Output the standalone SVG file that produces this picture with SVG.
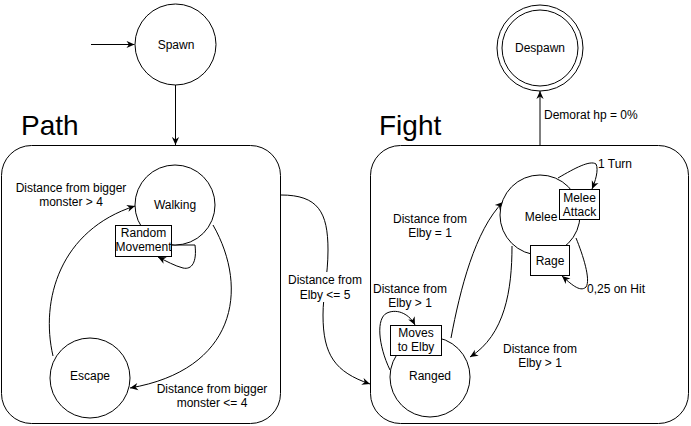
<svg xmlns="http://www.w3.org/2000/svg" width="691" height="426" viewBox="0 0 691 426">
<style>
  .shape { fill: #ffffff; stroke: #000000; stroke-width: 1; }
  .cont { fill: #ffffff; stroke: #000000; stroke-width: 1; }
  .edge { fill: none; stroke: #000000; stroke-width: 1; marker-end: url(#arrow); }
  text { font-family: "Liberation Sans", Arial, Helvetica, sans-serif; font-size: 12px; fill: #000000; }
  .c { text-anchor: middle; }
  .title { font-size: 28px; }
</style>
<defs>
  <marker id="arrow" viewBox="0 0 10 10" refX="10" refY="5" markerWidth="9" markerHeight="8" markerUnits="userSpaceOnUse" orient="auto">
    <path d="M0,0.5 L10,5 L0,9.5 L3,5 Z" fill="#000000"/>
  </marker>
</defs>

<g id="container-path">
  <rect class="cont" x="1.5" y="145.5" width="279" height="278" rx="30" ry="30"/>
  <text class="title" x="21" y="135">Path</text>
</g>
<g id="container-fight">
  <rect class="cont" x="370.5" y="145.5" width="318" height="278" rx="30" ry="30"/>
  <text class="title" x="379" y="135">Fight</text>
</g>

<g id="connectors">
  <path class="edge" d="M91,44.5 L134.5,44.5"/>
  <path class="edge" d="M175.5,85 L175.5,145"/>
  <path class="edge" d="M540,145 L540,91"/>
  <path class="edge" d="M53,356 C40,300 60,230 135,206"/>
  <path class="edge" d="M213,225 C250,290 235,370 130,388"/>
  <path class="edge" d="M171,245 L195,245 C197,262 192,270 183,268 C175,266 166,261 158,257"/>
  <path class="edge" d="M281,195 C318,195 328,212 328,250 C328,275 323,295 323,315 C323,355 335,372 370,384"/>
  <path class="edge" d="M451,338 C460,290 475,230 503,202"/>
  <path class="edge" d="M512,246 C512,290 505,335 470,357"/>
  <path class="edge" d="M390,370 C378,345 376,318 387,313 C398,308 410,315 415,325"/>
  <path class="edge" d="M558,178 C575,168 590,160 596,164 C599,170 595,182 592,189"/>
  <path class="edge" d="M576,238 C583,255 591,280 586,287 C580,293 570,283 562,276"/>

  <text class="c" x="71" y="192">Distance from bigger</text>
  <text class="c" x="71" y="206">monster &gt; 4</text>
  <text class="c" x="212" y="393">Distance from bigger</text>
  <text class="c" x="212" y="407">monster &lt;= 4</text>
  <rect x="287" y="272" width="76" height="30" fill="#ffffff"/>
  <text class="c" x="325" y="284">Distance from</text>
  <text class="c" x="325" y="299">Elby &lt;= 5</text>
  <text x="544" y="119">Demorat hp = 0%</text>
  <text class="c" x="430" y="223">Distance from</text>
  <text class="c" x="430" y="237">Elby = 1</text>
  <text class="c" x="410" y="293">Distance from</text>
  <text class="c" x="410" y="307">Elby &gt; 1</text>
  <text class="c" x="540" y="353">Distance from</text>
  <text class="c" x="540" y="367">Elby &gt; 1</text>
  <text x="598" y="168">1 Turn</text>
  <text x="587" y="293">0,25 on Hit</text>
</g>

<g id="node-spawn">
  <circle class="shape" cx="175.5" cy="44.5" r="40.5"/>
  <text class="c" x="176" y="49">Spawn</text>
</g>
<g id="node-despawn">
  <circle class="shape" cx="540" cy="48" r="43"/>
  <circle class="shape" cx="540" cy="48" r="38"/>
  <text class="c" x="540" y="52">Despawn</text>
</g>
<g id="node-walking">
  <circle class="shape" cx="175" cy="205" r="40"/>
  <text class="c" x="175" y="209">Walking</text>
</g>
<g id="node-random-movement">
  <rect class="shape" x="115.5" y="225.5" width="56" height="31"/>
  <text class="c" x="143.5" y="237">Random</text>
  <text class="c" x="143.5" y="251">Movement</text>
</g>
<g id="node-escape">
  <circle class="shape" cx="90" cy="378" r="40"/>
  <text class="c" x="90" y="380">Escape</text>
</g>
<g id="node-melee">
  <circle class="shape" cx="540" cy="215" r="40"/>
  <text class="c" x="541" y="221">Melee</text>
</g>
<g id="node-melee-attack">
  <rect class="shape" x="559.5" y="189.5" width="40" height="30"/>
  <text class="c" x="579.5" y="202">Melee</text>
  <text class="c" x="579.5" y="216">Attack</text>
</g>
<g id="node-rage">
  <rect class="shape" x="530.5" y="245.5" width="39" height="30"/>
  <text class="c" x="550" y="265">Rage</text>
</g>
<g id="node-ranged">
  <circle class="shape" cx="430" cy="377" r="40"/>
  <text class="c" x="430" y="380">Ranged</text>
</g>
<g id="node-moves-to-elby">
  <rect class="shape" x="390.5" y="325.5" width="51" height="30"/>
  <text class="c" x="416" y="337">Moves</text>
  <text class="c" x="416" y="351">to Elby</text>
</g>
</svg>
